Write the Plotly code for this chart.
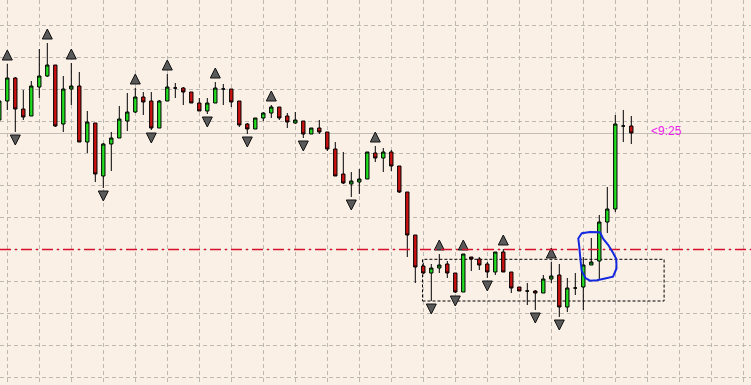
import plotly.graph_objects as go

# ---- data (price units) ----
bars = list(range(-1, 79))
opens = [265,284,307,276,269,298,309,320,261,296,299,243,262,209,241,247,264,273,288,284,
         257,284,297,297,293,282,274,282,296,296,284,261,256,267,272,278,269,262,264,251,
         257,253,236,211,201,203,206,232,227,233,219,193,150,119,112,117,121,112,93,128,
         126,121,113,133,113,98,94,94,92,106,110,78,97,98,120,124,163,176,259,259]
highs = [287,321,308,295,304,336,342,320,309,322,313,274,262,242,253,279,292,297,293,293,
         285,311,302,298,293,287,287,303,301,296,284,262,267,273,280,278,272,273,264,257,
         265,253,243,233,213,216,233,239,237,235,219,193,150,122,121,131,124,112,131,128,
         128,123,133,136,113,98,102,95,110,123,121,107,112,128,147,170,198,270,275,269]
lows = [262,275,253,265,269,287,308,258,253,280,243,232,203,197,214,247,254,272,270,255,
        257,284,287,280,282,274,271,282,280,278,258,251,256,264,267,265,257,261,247,251,
        251,234,209,201,188,191,206,223,213,214,192,128,102,111,84,112,107,92,93,114,
        115,107,110,113,92,94,80,75,92,102,68,73,90,75,120,105,152,173,243,241]
closes = [284,307,276,268,299,309,320,259,296,299,243,263,211,241,247,266,273,288,283,257,
          284,298,297,293,282,274,282,297,296,283,260,256,267,272,278,267,263,265,251,257,
          253,236,209,202,204,206,233,227,233,219,193,150,118,112,117,120,112,93,131,126,
          120,113,133,113,97,94,94,92,106,109,78,97,97,120,123,163,176,261,259,252]

fractal_up = [0, 5, 8, 16, 20, 26, 33, 46, 54, 57, 62, 68]
fractal_down = [1, 12, 18, 25, 30, 37, 43, 53, 56, 60, 66, 69]

bid_level = 251.5
red_level = 135.5
box = dict(x0=51.9, x1=82.1, y0=84, y1=125.7)
label_text = "<9:25"

# pixel helpers for the hand-drawn loop
def px2x(px):
    return (px - 7.3) / 8.0

def py2y(py):
    return 385.0 - py

loop_px = [(581.7, 233.3), (590, 232.0), (600, 232.3), (603.3, 239), (608.3, 245), (613.3, 253.3),
           (616.3, 259), (616.5, 268.5), (613, 276.7), (605, 278.5), (597, 280.2), (590, 280.7),
           (585.5, 278), (581.7, 271), (580.5, 260), (579.3, 247), (578.3, 238.5), (581.7, 233.3)]

fig = go.Figure()

fig.add_trace(go.Candlestick(
    x=bars, open=opens, high=highs, low=lows, close=closes,
    increasing=dict(fillcolor="#22DD22", line=dict(color="black", width=1)),
    decreasing=dict(fillcolor="#CC1111", line=dict(color="black", width=1)),
    whiskerwidth=0, showlegend=False, hoverinfo="skip"))

idx = {b: i for i, b in enumerate(bars)}
fig.add_trace(go.Scatter(
    x=fractal_up, y=[highs[idx[k]] + 14 for k in fractal_up], mode="markers",
    marker=dict(symbol="arrow-up", size=10, color="#5a5a5a", line=dict(color="#111111", width=1)),
    showlegend=False, hoverinfo="skip"))
fig.add_trace(go.Scatter(
    x=fractal_down, y=[lows[idx[k]] - 13 for k in fractal_down], mode="markers",
    marker=dict(symbol="arrow-down", size=10, color="#5a5a5a", line=dict(color="#111111", width=1)),
    showlegend=False, hoverinfo="skip"))

xr = [px2x(0), px2x(751)]

shapes = [
    dict(type="line", xref="paper", x0=0, x1=1, yref="y", y0=bid_level, y1=bid_level,
         line=dict(color="#C4BEB8", width=1), layer="between"),
    dict(type="rect", xref="x", yref="y", x0=box["x0"], x1=box["x1"], y0=box["y0"], y1=box["y1"],
         line=dict(color="black", width=1, dash="3px,2px"), fillcolor="rgba(0,0,0,0)", layer="between"),
    dict(type="line", xref="paper", x0=0, x1=1, yref="y", y0=red_level, y1=red_level,
         line=dict(color="#D8102C", width=1.3, dash="11px,4px,2px,4px"), layer="above"),
]
path = "M " + " L ".join(f"{px2x(a):.3f},{py2y(b):.2f}" for a, b in loop_px) + " Z"
shapes.append(dict(type="path", xref="x", yref="y", path=path,
                   line=dict(color="#1428E0", width=2), fillcolor="rgba(0,0,0,0)", layer="above"))

fig.update_layout(
    width=751, height=385, margin=dict(l=0, r=0, t=0, b=0),
    paper_bgcolor="#FAF0E6", plot_bgcolor="#FAF0E6",
    boxgap=0.4, shapes=shapes, showlegend=False,
    annotations=[dict(x=px2x(649), y=py2y(131), xref="x", yref="y", text=label_text,
                      showarrow=False, xanchor="left", yanchor="middle",
                      font=dict(family="Liberation Sans, Arial", size=12, color="#EE22EE"))],
)
fig.update_xaxes(range=xr, showticklabels=False, ticks="", zeroline=False,
                 showgrid=True, gridcolor="#BDB8B2", griddash="4px,3px", gridwidth=1,
                 tick0=0, dtick=4, rangeslider=dict(visible=False), showline=False)
fig.update_yaxes(range=[0, 385], showticklabels=False, ticks="", zeroline=False,
                 showgrid=True, gridcolor="#BDB8B2", griddash="4px,3px", gridwidth=1,
                 tick0=7.7, dtick=32, showline=False)

fig.write_html("out.html")
